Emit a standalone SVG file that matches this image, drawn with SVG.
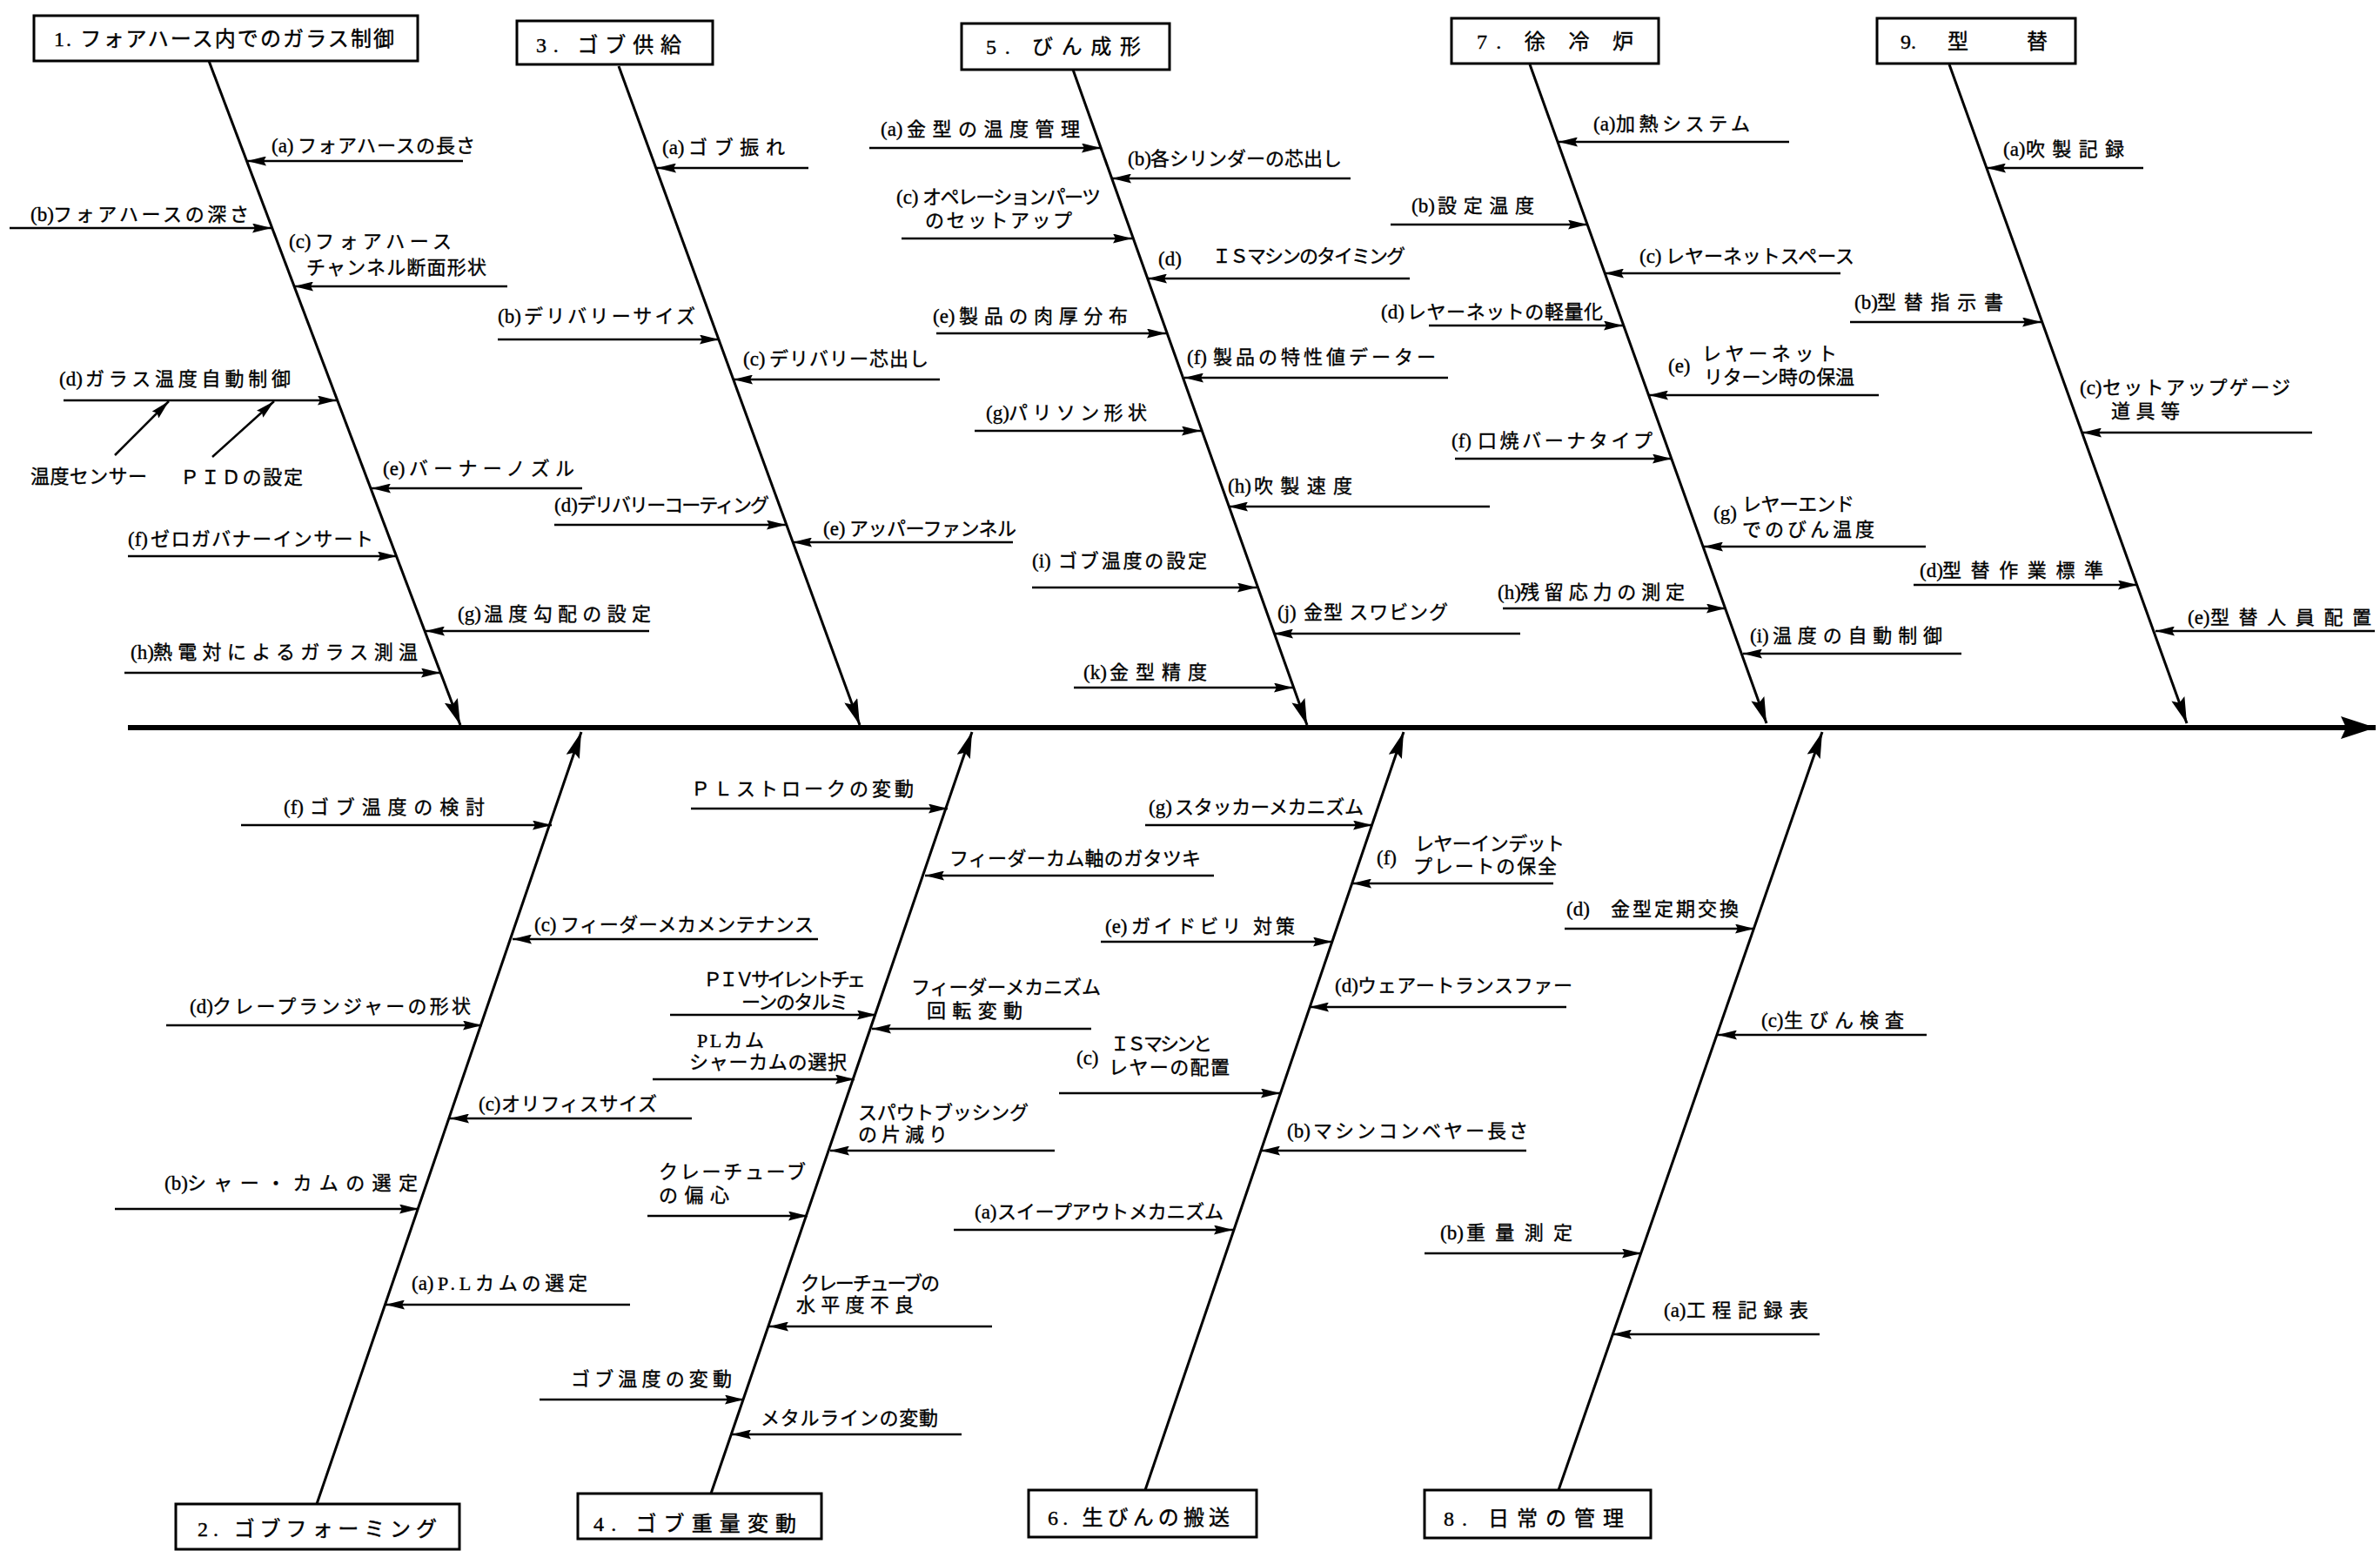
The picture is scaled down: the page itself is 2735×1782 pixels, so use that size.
<svg xmlns="http://www.w3.org/2000/svg" width="2735" height="1782" viewBox="0 0 2735 1782">
<style>
.t{font-family:'Liberation Serif','Noto Sans CJK JP',serif;font-size:22px;fill:#000;stroke:#000;stroke-width:0.35}
.p{font-family:'Liberation Serif','Noto Sans CJK JP',serif;font-size:23px;fill:#000;stroke:#000;stroke-width:0.35}
.bt{font-family:'Liberation Serif','Noto Sans CJK JP',serif;font-size:24px;fill:#000;stroke:#000;stroke-width:0.4}
.box{fill:#fff;stroke:#000;stroke-width:3}
.sub{stroke:#000;stroke-width:2.5;fill:none;marker-end:url(#ah)}
.bone{stroke:#000;stroke-width:3;fill:none;marker-end:url(#bh)}
.spine{stroke:#000;stroke-width:6;fill:none;marker-end:url(#sh)}
</style>
<defs>
<marker id="ah" markerUnits="userSpaceOnUse" markerWidth="22" markerHeight="11" refX="22" refY="5.5" orient="auto"><path d="M0,0 L22,5.5 L0,11 L3,5.5 z" fill="#000"/></marker>
<marker id="bh" markerUnits="userSpaceOnUse" markerWidth="30" markerHeight="16" refX="30" refY="8" orient="auto"><path d="M0,0 L30,8 L0,16 L5,8 z" fill="#000"/></marker>
<marker id="sh" markerUnits="userSpaceOnUse" markerWidth="40" markerHeight="26" refX="40" refY="13" orient="auto"><path d="M0,0 L40,13 L0,26 L6,13 z" fill="#000"/></marker>
</defs>
<rect width="2735" height="1782" fill="#fff"/>

<g id="connectors">
<line class="spine" x1="147" y1="836" x2="2730" y2="836"/>
<line class="bone" x1="240" y1="70" x2="529" y2="833"/>
<line class="bone" x1="711" y1="76" x2="988" y2="833"/>
<line class="bone" x1="1233" y1="80" x2="1502" y2="833"/>
<line class="bone" x1="1758" y1="74" x2="2030" y2="831"/>
<line class="bone" x1="2240" y1="74" x2="2513" y2="831"/>
<line class="bone" x1="364" y1="1728" x2="668" y2="841"/>
<line class="bone" x1="817" y1="1716" x2="1117" y2="841"/>
<line class="bone" x1="1316" y1="1712" x2="1613" y2="841"/>
<line class="bone" x1="1791" y1="1712" x2="2094" y2="841"/>
<!-- bone 1 -->
<line class="sub" x1="532" y1="185" x2="284" y2="185"/>
<line class="sub" x1="11" y1="262" x2="312" y2="262"/>
<line class="sub" x1="583" y1="329" x2="338" y2="329"/>
<line class="sub" x1="73" y1="460" x2="387" y2="460"/>
<line class="sub" x1="132" y1="523" x2="194" y2="461"/>
<line class="sub" x1="244" y1="525" x2="315" y2="461"/>
<line class="sub" x1="669" y1="561" x2="427" y2="561"/>
<line class="sub" x1="147" y1="639" x2="456" y2="639"/>
<line class="sub" x1="746" y1="725" x2="489" y2="725"/>
<line class="sub" x1="143" y1="773" x2="506" y2="773"/>
<!-- bone 3 -->
<line class="sub" x1="929" y1="193" x2="755" y2="193"/>
<line class="sub" x1="572" y1="390" x2="826" y2="390"/>
<line class="sub" x1="1080" y1="436" x2="843" y2="436"/>
<line class="sub" x1="637" y1="603" x2="903" y2="603"/>
<line class="sub" x1="1164" y1="623" x2="911" y2="623"/>
<!-- bone 5 -->
<line class="sub" x1="999" y1="170" x2="1265" y2="170"/>
<line class="sub" x1="1552" y1="205" x2="1278" y2="205"/>
<line class="sub" x1="1036" y1="274" x2="1301" y2="274"/>
<line class="sub" x1="1620" y1="320" x2="1319" y2="320"/>
<line class="sub" x1="1076" y1="383" x2="1340" y2="383"/>
<line class="sub" x1="1664" y1="434" x2="1361" y2="434"/>
<line class="sub" x1="1120" y1="495" x2="1380" y2="495"/>
<line class="sub" x1="1712" y1="582" x2="1412" y2="582"/>
<line class="sub" x1="1186" y1="675" x2="1444" y2="675"/>
<line class="sub" x1="1747" y1="728" x2="1464" y2="728"/>
<line class="sub" x1="1234" y1="790" x2="1486" y2="790"/>
<!-- bone 7 -->
<line class="sub" x1="2056" y1="163" x2="1791" y2="163"/>
<line class="sub" x1="1598" y1="258" x2="1824" y2="258"/>
<line class="sub" x1="2115" y1="314" x2="1844" y2="314"/>
<line class="sub" x1="1642" y1="374" x2="1865" y2="374"/>
<line class="sub" x1="2159" y1="454" x2="1895" y2="454"/>
<line class="sub" x1="1672" y1="527" x2="1921" y2="527"/>
<line class="sub" x1="2213" y1="628" x2="1958" y2="628"/>
<line class="sub" x1="1727" y1="699" x2="1983" y2="699"/>
<line class="sub" x1="2254" y1="751" x2="2003" y2="751"/>
<!-- bone 9 -->
<line class="sub" x1="2463" y1="193" x2="2283" y2="193"/>
<line class="sub" x1="2126" y1="370" x2="2346" y2="370"/>
<line class="sub" x1="2657" y1="497" x2="2393" y2="497"/>
<line class="sub" x1="2199" y1="672" x2="2456" y2="672"/>
<line class="sub" x1="2729" y1="725" x2="2477" y2="725"/>
<!-- bone 2 -->
<line class="sub" x1="277" y1="948" x2="634" y2="948"/>
<line class="sub" x1="940" y1="1079" x2="589" y2="1079"/>
<line class="sub" x1="191" y1="1178" x2="554" y2="1178"/>
<line class="sub" x1="795" y1="1285" x2="517" y2="1285"/>
<line class="sub" x1="132" y1="1389" x2="481" y2="1389"/>
<line class="sub" x1="724" y1="1499" x2="443" y2="1499"/>
<!-- bone 4 -->
<line class="sub" x1="794" y1="929" x2="1089" y2="929"/>
<line class="sub" x1="1395" y1="1006" x2="1063" y2="1006"/>
<line class="sub" x1="770" y1="1166" x2="1007" y2="1166"/>
<line class="sub" x1="1254" y1="1182" x2="1002" y2="1182"/>
<line class="sub" x1="750" y1="1240" x2="982" y2="1240"/>
<line class="sub" x1="1212" y1="1322" x2="954" y2="1322"/>
<line class="sub" x1="744" y1="1397" x2="928" y2="1397"/>
<line class="sub" x1="1140" y1="1524" x2="884" y2="1524"/>
<line class="sub" x1="620" y1="1608" x2="855" y2="1608"/>
<line class="sub" x1="1105" y1="1648" x2="841" y2="1648"/>
<!-- bone 6 -->
<line class="sub" x1="1316" y1="948" x2="1577" y2="948"/>
<line class="sub" x1="1785" y1="1015" x2="1554" y2="1015"/>
<line class="sub" x1="1265" y1="1082" x2="1531" y2="1082"/>
<line class="sub" x1="1800" y1="1157" x2="1505" y2="1157"/>
<line class="sub" x1="1217" y1="1256" x2="1471" y2="1256"/>
<line class="sub" x1="1754" y1="1322" x2="1449" y2="1322"/>
<line class="sub" x1="1096" y1="1413" x2="1417" y2="1413"/>
<!-- bone 8 -->
<line class="sub" x1="1798" y1="1067" x2="2016" y2="1067"/>
<line class="sub" x1="2214" y1="1189" x2="1974" y2="1189"/>
<line class="sub" x1="1637" y1="1440" x2="1886" y2="1440"/>
<line class="sub" x1="2091" y1="1533" x2="1853" y2="1533"/>
</g>

<!-- category boxes -->
<g id="cat1"><rect class="box" x="39" y="18" width="441" height="52"/><text class="bt" x="62" y="53" textLength="391" lengthAdjust="spacing">1.  フォアハース内でのガラス制御</text></g>
<g id="cat3"><rect class="box" x="594" y="24" width="225" height="50"/><text class="bt" x="616" y="60" textLength="167" lengthAdjust="spacing">3.  ゴブ供給</text></g>
<g id="cat5"><rect class="box" x="1105" y="27" width="239" height="53"/><text class="bt" x="1133" y="62" textLength="178" lengthAdjust="spacing">5.  びん成形</text></g>
<g id="cat7"><rect class="box" x="1668" y="21" width="238" height="52"/><text class="bt" x="1697" y="56" textLength="180" lengthAdjust="spacing">7. 徐  冷  炉</text></g>
<g id="cat9"><rect class="box" x="2157" y="21" width="228" height="52"/><text class="bt" x="2184" y="56">9.</text><text class="bt" x="2238" y="56">型</text><text class="bt" x="2329" y="56">替</text></g>
<g id="cat2"><rect class="box" x="202" y="1728" width="326" height="52"/><text class="bt" x="227" y="1765" textLength="275" lengthAdjust="spacing">2.  ゴブフォーミング</text></g>
<g id="cat4"><rect class="box" x="664" y="1716" width="280" height="52"/><text class="bt" x="682" y="1759" textLength="233" lengthAdjust="spacing">4.  ゴブ重量変動</text></g>
<g id="cat6"><rect class="box" x="1182" y="1712" width="262" height="54"/><text class="bt" x="1204" y="1752" textLength="209" lengthAdjust="spacing">6.  生びんの搬送</text></g>
<g id="cat8"><rect class="box" x="1637" y="1712" width="260" height="55"/><text class="bt" x="1659" y="1753" textLength="207" lengthAdjust="spacing">8.  日常の管理</text></g>

<!-- bone 1 labels -->
<g id="c1a"><text class="p" x="312" y="175">(a)</text><text class="t" x="342" y="175" textLength="204" lengthAdjust="spacing">フォアハースの長さ</text></g>
<g id="c1b"><text class="p" x="35" y="254">(b)</text><text class="t" x="61" y="254" textLength="225" lengthAdjust="spacing">フォアハースの深さ</text></g>
<g id="c1c"><text class="p" x="332" y="285">(c)</text><text class="t" x="362" y="285" textLength="157" lengthAdjust="spacing">フォアハース</text><text class="t" x="352" y="315" textLength="207" lengthAdjust="spacing">チャンネル断面形状</text></g>
<g id="c1d"><text class="p" x="68" y="443">(d)</text><text class="t" x="98" y="443" textLength="236" lengthAdjust="spacing">ガラス温度自動制御</text></g>
<g id="c1d1"><text class="t" x="35" y="555" textLength="134" lengthAdjust="spacing">温度センサー</text></g>
<g id="c1d2"><text class="t" x="207" y="556" textLength="141" lengthAdjust="spacing">ＰＩＤの設定</text></g>
<g id="c1e"><text class="p" x="440" y="546">(e)</text><text class="t" x="470" y="546" textLength="190" lengthAdjust="spacing">バーナーノズル</text></g>
<g id="c1f"><text class="p" x="147" y="627">(f)</text><text class="t" x="173" y="627" textLength="256" lengthAdjust="spacing">ゼロガバナーインサート</text></g>
<g id="c1g"><text class="p" x="526" y="713">(g)</text><text class="t" x="556" y="713" textLength="192" lengthAdjust="spacing">温度勾配の設定</text></g>
<g id="c1h"><text class="p" x="150" y="757">(h)</text><text class="t" x="176" y="757" textLength="304" lengthAdjust="spacing">熱電対によるガラス測温</text></g>

<!-- bone 3 labels -->
<g id="c3a"><text class="p" x="761" y="177">(a)</text><text class="t" x="791" y="177" textLength="111" lengthAdjust="spacing">ゴブ振れ</text></g>
<g id="c3b"><text class="p" x="572" y="371">(b)</text><text class="t" x="602" y="371" textLength="197" lengthAdjust="spacing">デリバリーサイズ</text></g>
<g id="c3c"><text class="p" x="854" y="420">(c)</text><text class="t" x="884" y="420" textLength="183" lengthAdjust="spacing">デリバリー芯出し</text></g>
<g id="c3d"><text class="p" x="637" y="588">(d)</text><text class="t" x="663" y="588" textLength="221" lengthAdjust="spacing">デリバリーコーティング</text></g>
<g id="c3e"><text class="p" x="946" y="615">(e)</text><text class="t" x="976" y="615" textLength="192" lengthAdjust="spacing">アッパーファンネル</text></g>

<!-- bone 5 labels -->
<g id="c5a"><text class="p" x="1012" y="156">(a)</text><text class="t" x="1042" y="156" textLength="199" lengthAdjust="spacing">金型の温度管理</text></g>
<g id="c5b"><text class="p" x="1296" y="190">(b)</text><text class="t" x="1322" y="190" textLength="220" lengthAdjust="spacing">各シリンダーの芯出し</text></g>
<g id="c5c"><text class="p" x="1030" y="234">(c)</text><text class="t" x="1060" y="234" textLength="205" lengthAdjust="spacing">オペレーションパーツ</text><text class="t" x="1063" y="261" textLength="169" lengthAdjust="spacing">のセットアップ</text></g>
<g id="c5d"><text class="p" x="1331" y="305">(d)</text><text class="t" x="1393" y="302" textLength="222" lengthAdjust="spacing">ＩＳマシンのタイミング</text></g>
<g id="c5e"><text class="p" x="1072" y="371">(e)</text><text class="t" x="1102" y="371" textLength="194" lengthAdjust="spacing">製品の肉厚分布</text></g>
<g id="c5f"><text class="p" x="1364" y="418">(f)</text><text class="t" x="1394" y="418" textLength="256" lengthAdjust="spacing">製品の特性値データー</text></g>
<g id="c5g"><text class="p" x="1133" y="482">(g)</text><text class="t" x="1159" y="482" textLength="159" lengthAdjust="spacing">パリソン形状</text></g>
<g id="c5h"><text class="p" x="1411" y="566">(h)</text><text class="t" x="1441" y="566" textLength="113" lengthAdjust="spacing">吹製速度</text></g>
<g id="c5i"><text class="p" x="1186" y="652">(i)</text><text class="t" x="1216" y="652" textLength="171" lengthAdjust="spacing">ゴブ温度の設定</text></g>
<g id="c5j"><text class="p" x="1468" y="711">(j)</text><text class="t" x="1498" y="711" textLength="166" lengthAdjust="spacing">金型 スワビング</text></g>
<g id="c5k"><text class="p" x="1245" y="780">(k)</text><text class="t" x="1275" y="780" textLength="112" lengthAdjust="spacing">金型精度</text></g>

<!-- bone 7 labels -->
<g id="c7a"><text class="p" x="1831" y="150">(a)</text><text class="t" x="1857" y="150" textLength="154" lengthAdjust="spacing">加熱システム</text></g>
<g id="c7b"><text class="p" x="1622" y="244">(b)</text><text class="t" x="1652" y="244" textLength="111" lengthAdjust="spacing">設定温度</text></g>
<g id="c7c"><text class="p" x="1884" y="302">(c)</text><text class="t" x="1914" y="302" textLength="217" lengthAdjust="spacing">レヤーネットスペース</text></g>
<g id="c7d"><text class="p" x="1587" y="366">(d)</text><text class="t" x="1617" y="366" textLength="225" lengthAdjust="spacing">レヤーネットの軽量化</text></g>
<g id="c7e"><text class="p" x="1917" y="428">(e)</text><text class="t" x="1956" y="414" textLength="155" lengthAdjust="spacing">レヤーネット</text><text class="t" x="1958" y="441" textLength="173" lengthAdjust="spacing">リターン時の保温</text></g>
<g id="c7f"><text class="p" x="1668" y="514">(f)</text><text class="t" x="1698" y="514" textLength="201" lengthAdjust="spacing">口焼バーナタイプ</text></g>
<g id="c7g"><text class="p" x="1969" y="597">(g)</text><text class="t" x="2002" y="587" textLength="129" lengthAdjust="spacing">レヤーエンド</text><text class="t" x="2002" y="616" textLength="152" lengthAdjust="spacing">でのびん温度</text></g>
<g id="c7h"><text class="p" x="1721" y="688">(h)</text><text class="t" x="1747" y="688" textLength="189" lengthAdjust="spacing">残留応力の測定</text></g>
<g id="c7i"><text class="p" x="2011" y="738">(i)</text><text class="t" x="2037" y="738" textLength="195" lengthAdjust="spacing">温度の自動制御</text></g>

<!-- bone 9 labels -->
<g id="c9a"><text class="p" x="2302" y="179">(a)</text><text class="t" x="2328" y="179" textLength="113" lengthAdjust="spacing">吹製記録</text></g>
<g id="c9b"><text class="p" x="2131" y="355">(b)</text><text class="t" x="2157" y="355" textLength="145" lengthAdjust="spacing">型替指示書</text></g>
<g id="c9c"><text class="p" x="2390" y="453">(c)</text><text class="t" x="2416" y="453" textLength="216" lengthAdjust="spacing">セットアップゲージ</text><text class="t" x="2426" y="480" textLength="79" lengthAdjust="spacing">道具等</text></g>
<g id="c9d"><text class="p" x="2206" y="663">(d)</text><text class="t" x="2232" y="663" textLength="185" lengthAdjust="spacing">型替作業標準</text></g>
<g id="c9e"><text class="p" x="2514" y="717">(e)</text><text class="t" x="2540" y="717" textLength="185" lengthAdjust="spacing">型替人員配置</text></g>

<!-- bone 2 labels -->
<g id="c2f"><text class="p" x="326" y="935">(f)</text><text class="t" x="356" y="935" textLength="201" lengthAdjust="spacing">ゴブ温度の検討</text></g>
<g id="c2c"><text class="p" x="614" y="1070">(c)</text><text class="t" x="644" y="1070" textLength="291" lengthAdjust="spacing">フィーダーメカメンテナンス</text></g>
<g id="c2d"><text class="p" x="218" y="1164">(d)</text><text class="t" x="244" y="1164" textLength="297" lengthAdjust="spacing">クレープランジャーの形状</text></g>
<g id="c2c2"><text class="p" x="550" y="1276">(c)</text><text class="t" x="576" y="1276" textLength="179" lengthAdjust="spacing">オリフィスサイズ</text></g>
<g id="c2b"><text class="p" x="189" y="1367">(b)</text><text class="t" x="215" y="1367" textLength="265" lengthAdjust="spacing">シャー・カムの選定</text></g>
<g id="c2a"><text class="p" x="473" y="1482">(a)</text><text class="t" x="503" y="1482" textLength="172" lengthAdjust="spacing">P.Lカムの選定</text></g>

<!-- bone 4 labels -->
<g id="c4a"><text class="t" x="794" y="914" textLength="256" lengthAdjust="spacing">ＰＬストロークの変動</text></g>
<g id="c4b"><text class="t" x="1091" y="994" textLength="289" lengthAdjust="spacing">フィーダーカム軸のガタツキ</text></g>
<g id="c4c"><text class="t" x="808" y="1133" textLength="187" lengthAdjust="spacing">ＰＩＶサイレントチェ</text><text class="t" x="852" y="1159" textLength="123" lengthAdjust="spacing">ーンのタルミ</text></g>
<g id="c4d"><text class="t" x="1047" y="1142" textLength="218" lengthAdjust="spacing">フィーダーメカニズム</text><text class="t" x="1065" y="1169" textLength="110" lengthAdjust="spacing">回転変動</text></g>
<g id="c4e"><text class="t" x="801" y="1203" textLength="77" lengthAdjust="spacing">PLカム</text><text class="t" x="792" y="1228" textLength="181" lengthAdjust="spacing">シャーカムの選択</text></g>
<g id="c4f"><text class="t" x="986" y="1286" textLength="196" lengthAdjust="spacing">スパウトブッシング</text><text class="t" x="986" y="1311" textLength="103" lengthAdjust="spacing">の片減り</text></g>
<g id="c4g"><text class="t" x="757" y="1354" textLength="169" lengthAdjust="spacing">クレーチューブ</text><text class="t" x="757" y="1381" textLength="81" lengthAdjust="spacing">の偏心</text></g>
<g id="c4h"><text class="t" x="920" y="1482" textLength="160" lengthAdjust="spacing">クレーチューブの</text><text class="t" x="915" y="1507" textLength="135" lengthAdjust="spacing">水平度不良</text></g>
<g id="c4i"><text class="t" x="656" y="1592" textLength="185" lengthAdjust="spacing">ゴブ温度の変動</text></g>
<g id="c4j"><text class="t" x="874" y="1637" textLength="204" lengthAdjust="spacing">メタルラインの変動</text></g>

<!-- bone 6 labels -->
<g id="c6g"><text class="p" x="1320" y="935">(g)</text><text class="t" x="1350" y="935" textLength="217" lengthAdjust="spacing">スタッカーメカニズム</text></g>
<g id="c6f"><text class="p" x="1582" y="993">(f)</text><text class="t" x="1626" y="977" textLength="172" lengthAdjust="spacing">レヤーインデット</text><text class="t" x="1624" y="1003" textLength="165" lengthAdjust="spacing">プレートの保全</text></g>
<g id="c6e"><text class="p" x="1270" y="1072">(e)</text><text class="t" x="1300" y="1072" textLength="188" lengthAdjust="spacing">ガイドビリ 対策</text></g>
<g id="c6d"><text class="p" x="1534" y="1140">(d)</text><text class="t" x="1560" y="1140" textLength="247" lengthAdjust="spacing">ウェアートランスファー</text></g>
<g id="c6c"><text class="p" x="1237" y="1223">(c)</text><text class="t" x="1276" y="1207" textLength="117" lengthAdjust="spacing">ＩＳマシンと</text><text class="t" x="1274" y="1234" textLength="139" lengthAdjust="spacing">レヤーの配置</text></g>
<g id="c6b"><text class="p" x="1479" y="1307">(b)</text><text class="t" x="1509" y="1307" textLength="247" lengthAdjust="spacing">マシンコンベヤー長さ</text></g>
<g id="c6a"><text class="p" x="1120" y="1400">(a)</text><text class="t" x="1146" y="1400" textLength="260" lengthAdjust="spacing">スイープアウトメカニズム</text></g>

<!-- bone 8 labels -->
<g id="c8d"><text class="p" x="1800" y="1052">(d)</text><text class="t" x="1851" y="1052" textLength="147" lengthAdjust="spacing">金型定期交換</text></g>
<g id="c8c"><text class="p" x="2024" y="1180">(c)</text><text class="t" x="2050" y="1180" textLength="138" lengthAdjust="spacing">生びん検査</text></g>
<g id="c8b"><text class="p" x="1655" y="1424">(b)</text><text class="t" x="1685" y="1424" textLength="122" lengthAdjust="spacing">重量測定</text></g>
<g id="c8a"><text class="p" x="1912" y="1513">(a)</text><text class="t" x="1938" y="1513" textLength="140" lengthAdjust="spacing">工程記録表</text></g>
</svg>
